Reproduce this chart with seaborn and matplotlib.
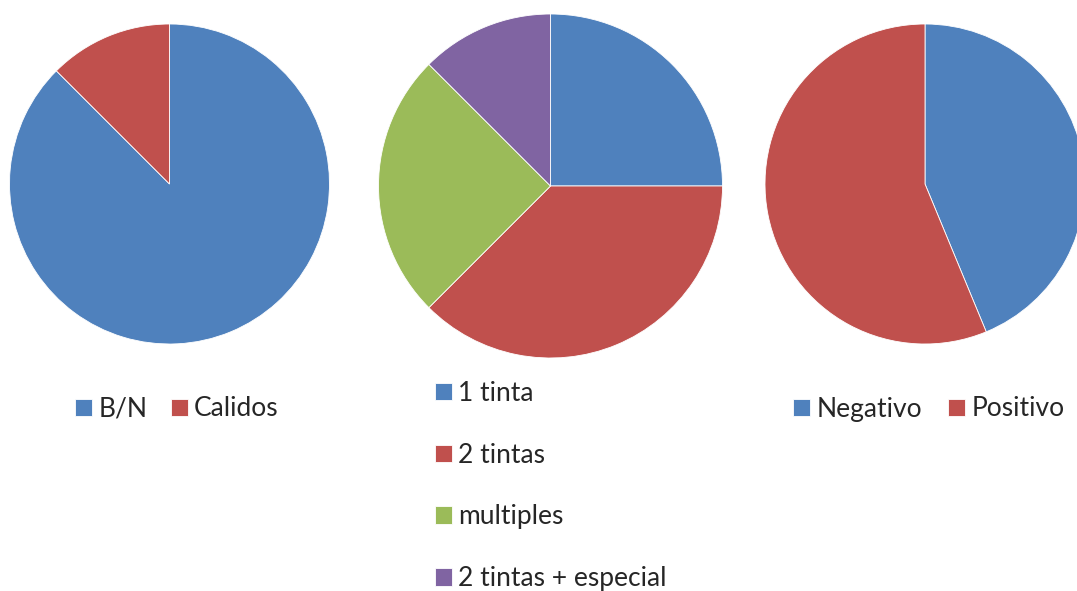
import matplotlib
matplotlib.use("Agg")
import matplotlib.pyplot as plt
import seaborn as sns

# Data
tono_labels = ["B/N", "Calidos"]
tono_values = [7, 1]

tintas_labels = ["1 tinta", "2 tintas", "multiples", "2 tintas + especial"]
tintas_values = [2, 3, 2, 1]

signo_labels = ["Negativo", "Positivo"]
signo_values = [7, 9]

sns.set_theme(style="white")
plt.rcParams["font.family"] = ["Lato", "DejaVu Sans"]

palette = sns.color_palette(["#4F81BD", "#C0504D", "#9BBB59", "#8064A2"])

W, H = 1077, 591
fig = plt.figure(figsize=(W / 100, H / 100), dpi=100)
fig.patch.set_facecolor("white")


def pie_axes(cx, cy, r):
    """Axes whose [-1, 1] square maps onto a circle of radius r (pixels) centred at (cx, cy)."""
    ax = fig.add_axes([(cx - r) / W, (H - cy - r) / H, 2 * r / W, 2 * r / H])
    ax.set_axis_off()
    return ax


def draw_pie(ax, values, n):
    wedges, _ = ax.pie(values, colors=palette[:n], startangle=90, counterclock=False,
                       radius=1.0,
                       wedgeprops=dict(edgecolor="white", linewidth=0.6))
    ax.set_xlim(-1, 1)
    ax.set_ylim(-1, 1)
    ax.set_aspect("auto")
    return wedges


w1 = draw_pie(pie_axes(169.5, 184, 160), tono_values, len(tono_values))
w2 = draw_pie(pie_axes(550.5, 186, 172), tintas_values, len(tintas_values))
w3 = draw_pie(pie_axes(925, 184, 160), signo_values, len(signo_values))

fs = 19
leg_kw = dict(frameon=False, fontsize=fs, handlelength=0.64, handleheight=0.64,
              handletextpad=0.24, borderpad=0, borderaxespad=0,
              bbox_transform=fig.transFigure)

fig.legend(w1, tono_labels, loc="center left", ncol=2, columnspacing=0.9,
           bbox_to_anchor=(75 / W, 1 - 409 / H), **leg_kw)
fig.legend(w2, tintas_labels, loc="center left", ncol=1, labelspacing=1.4,
           bbox_to_anchor=(435 / W, 1 - 486 / H), **leg_kw)
fig.legend(w3, signo_labels, loc="center left", ncol=2, columnspacing=1.0,
           bbox_to_anchor=(793 / W, 1 - 409 / H), **leg_kw)

fig.savefig("out.png", dpi=100, facecolor="white")
